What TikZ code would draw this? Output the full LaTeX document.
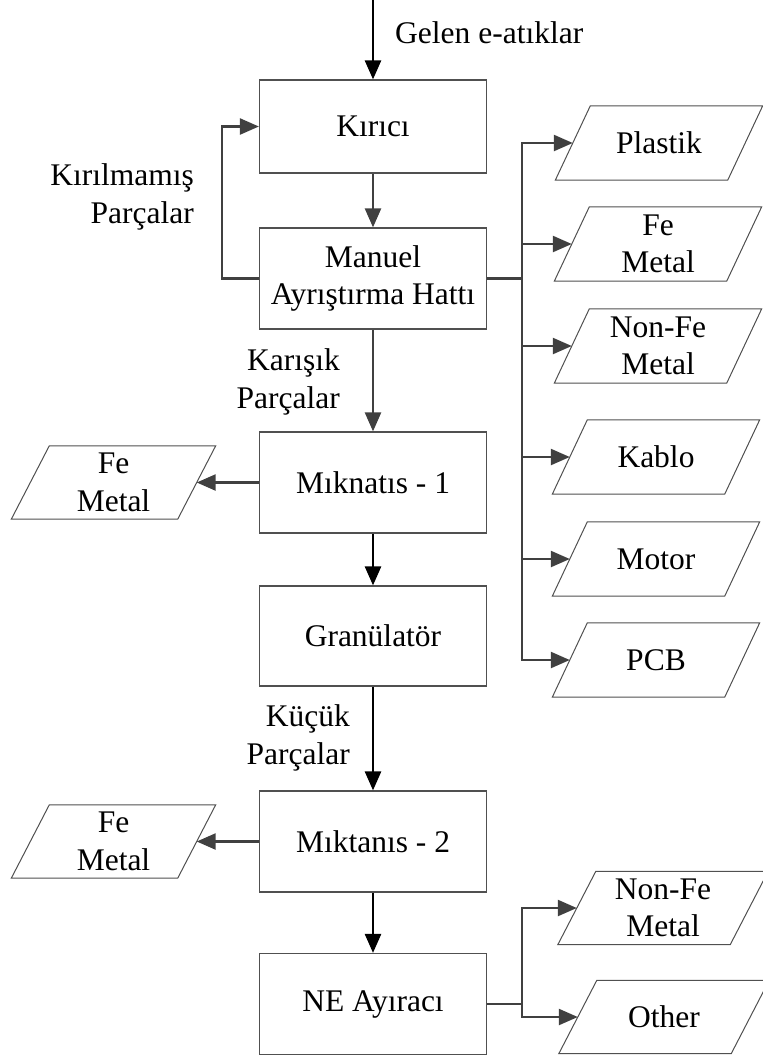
\documentclass[tikz,border=0pt]{standalone}
\usepackage{fontspec}
\setmainfont{Liberation Serif}
\usetikzlibrary{arrows.meta}

\definecolor{linegray}{HTML}{404040}
\definecolor{boxgray}{HTML}{505050}

% parallelogram outline around a (borderless) node: #1 node name, #2 half slant
\newcommand\outshape[2]{%
  \draw[outline] ([xshift=#2]#1.north west) -- ([xshift=#2]#1.north east)
    -- ([xshift=-#2]#1.south east) -- ([xshift=-#2]#1.south west) -- cycle;}

\begin{document}
\begin{tikzpicture}[x=1pt,y=-1pt,
  font=\fontsize{31.5}{37.5}\selectfont,
  proc/.style={draw=boxgray, line width=1.2pt, minimum width=227pt,
    minimum height=101pt, align=center, inner sep=0pt},
  outnode/.style={draw=none, minimum width=172pt, minimum height=74pt,
    align=center, inner sep=0pt},
  outline/.style={draw=boxgray, line width=1pt},
  flow/.style={line width=2.6pt, black, -{Triangle[length=19pt,width=16pt]}},
  gflow/.style={line width=2.4pt, linegray, -{Triangle[length=19pt,width=16pt]}},
  gline/.style={line width=2.4pt, linegray},
  lbl/.style={align=right, inner sep=0pt}
]
\useasboundingbox (0,0) rectangle (763,1061);

% main process chain
\node[proc, minimum height=93pt] (kir) at (373,126.5) {Kırıcı};
\node[proc] (man) at (373,278.5) {Manuel\\Ayrıştırma Hattı};
\node[proc] (mk1) at (373,482.5) {Mıknatıs - 1};
\node[proc, minimum height=100pt] (gra) at (373,636) {Granülatör};
\node[proc] (mk2) at (373,841.5) {Mıktanıs - 2};
\node[proc] (ne)  at (373,1004) {NE Ayıracı};

% outputs of the manual sorting line
\node[outnode] (p1) at (659,143) {Plastik};
\node[outnode] (p2) at (658,244) {Fe\\Metal};
\node[outnode] (p3) at (658,346) {Non-Fe\\Metal};
\node[outnode] (p4) at (656,457) {Kablo};
\node[outnode] (p5) at (656,559) {Motor};
\node[outnode] (p6) at (656,660) {PCB};
\foreach \n in {p1,p2,p3,p4,p5,p6} {\outshape{\n}{17.5pt}}

% magnet outputs
\node[outnode, minimum width=166pt, minimum height=73pt] (f1) at (113.5,482.5) {Fe\\Metal};
\node[outnode, minimum width=166pt, minimum height=73pt] (f2) at (113.5,841.5) {Fe\\Metal};
\outshape{f1}{19pt}
\outshape{f2}{19pt}

% separator outputs
\node[outnode, minimum height=73pt] (n1) at (663,908) {Non-Fe\\Metal};
\node[outnode, minimum height=73pt] (o1) at (664,1017) {Other};
\outshape{n1}{19pt}
\outshape{o1}{19pt}

% labels
\node[lbl, anchor=base west] (gel) at (395,43) {Gelen e-atıklar};
\node[lbl, anchor=east] (kp) at (194,197) {Kırılmamış\\Parçalar};
\node[lbl, anchor=east] (ka) at (340,382) {Karışık\\Parçalar};
\node[lbl, anchor=east] (ku) at (350,738) {Küçük\\Parçalar};

% connectors
\coordinate (in) at (373,0);
\draw[flow] (in) -- (kir.north);
\draw[gflow] (kir.south) -- (man.north);
\draw[gflow] (man.west) -- ++(-37,0) |- (kir.west);
\draw[gflow] (man.south) -- (mk1.north);
\draw[flow] (mk1.south) -- (gra.north);
\draw[flow] (gra.south) -- (mk2.north);
\draw[flow] (mk2.south) -- (ne.north);
\draw[gflow] (mk1.west) -- (f1.east);
\draw[gflow] (mk2.west) -- (f2.east);

\coordinate (bus) at (522,278.5);
\draw[gline] (man.east) -- (bus);
\foreach \n in {p1,p2,p3,p4,p5,p6} {\draw[gflow] (bus) |- (\n.west);}

\coordinate (bus2) at (522,1004);
\draw[gline] (ne.east) -- (bus2);
\draw[gflow] (bus2) |- (n1.west);
\draw[gflow] (bus2) |- (o1.west);
\end{tikzpicture}
\end{document}
